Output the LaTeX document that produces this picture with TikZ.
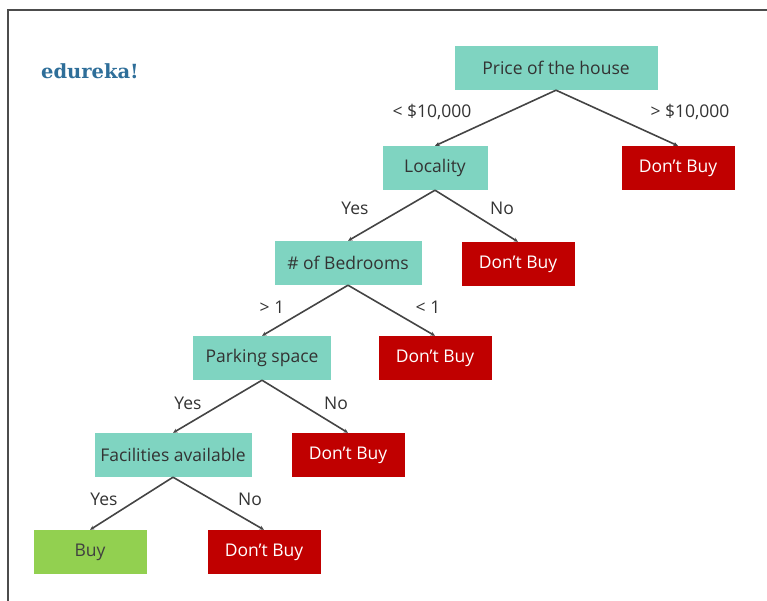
\documentclass[tikz,border=0pt]{standalone}
\usepackage{fontspec}
\setmainfont{Open Sans}
\newfontfamily\logofont{DejaVu Serif}
\usetikzlibrary{arrows.meta}
\definecolor{tealbox}{HTML}{7FD4C1}
\definecolor{redbox}{HTML}{C00000}
\definecolor{greenbox}{HTML}{92D050}
\definecolor{logoblue}{HTML}{2E6E99}
\definecolor{edgegray}{HTML}{444444}

\begin{document}
\begin{tikzpicture}[x=1pt,y=-1pt,
  every node/.style={inner sep=0pt,font=\fontsize{17.5}{20}\selectfont},
  ask/.style={fill=tealbox,text=black!80,minimum height=44pt},
  nobuy/.style={fill=redbox,text=white,minimum height=44pt,minimum width=113pt},
  yesbuy/.style={fill=greenbox,text=black!75,minimum height=44pt,minimum width=113pt},
  branch/.style={draw=edgegray,line width=1.6pt,-{Stealth[length=4.5pt,width=4pt]}},
  cond/.style={text=black!80}]
\useasboundingbox (0,0) rectangle (767,601);
% frame
\draw [black!70,line width=2pt] (7.5,601) -- (7.5,10.5) -- (767,10.5);
\node [font=\logofont\bfseries\fontsize{19.5}{22}\selectfont,text=logoblue] (logo) at (90,71) {edureka!};
% questions
\node [ask,minimum width=203pt] (price) at (556,68) {Price of the house};
\node [ask,minimum width=105pt] (locality) at (435,168) {Locality};
\node [ask,minimum width=147pt] (rooms) at (348,263) {\# of Bedrooms};
\node [ask,minimum width=138pt] (parking) at (262,358) {Parking space};
\node [ask,minimum width=157pt] (facility) at (173,455) {Facilities available};
% answers
\node [nobuy] (no1) at (678,168) {Don't Buy};
\node [nobuy] (no2) at (518,264) {Don't Buy};
\node [nobuy] (no3) at (435,358) {Don't Buy};
\node [nobuy] (no4) at (348,455) {Don't Buy};
\node [yesbuy] (buy) at (90,552) {Buy};
\node [nobuy] (no5) at (264,552) {Don't Buy};
% branches
\draw [branch] (price.south) -- (locality.north);
\draw [branch] (price.south) -- (no1.north);
\draw [branch] (locality.south) -- (rooms.north);
\draw [branch] (locality.south) -- (no2.north);
\draw [branch] (rooms.south) -- (parking.north);
\draw [branch] (rooms.south) -- (no3.north);
\draw [branch] (parking.south) -- (facility.north);
\draw [branch] (parking.south) -- (no4.north);
\draw [branch] (facility.south) -- (buy.north);
\draw [branch] (facility.south) -- (no5.north);
% conditions
\node [cond] (c1) at (432,112) {< \$10,000};
\node [cond] (c2) at (690,112) {> \$10,000};
\node [cond] (c3) at (355,208) {Yes};
\node [cond] (c4) at (502,208) {No};
\node [cond] (c5) at (272,307) {> 1};
\node [cond] (c6) at (428,307) {< 1};
\node [cond] (c7) at (188,403) {Yes};
\node [cond] (c8) at (336,403) {No};
\node [cond] (c9) at (104,499) {Yes};
\node [cond] (c10) at (250,499) {No};
\end{tikzpicture}
\end{document}
